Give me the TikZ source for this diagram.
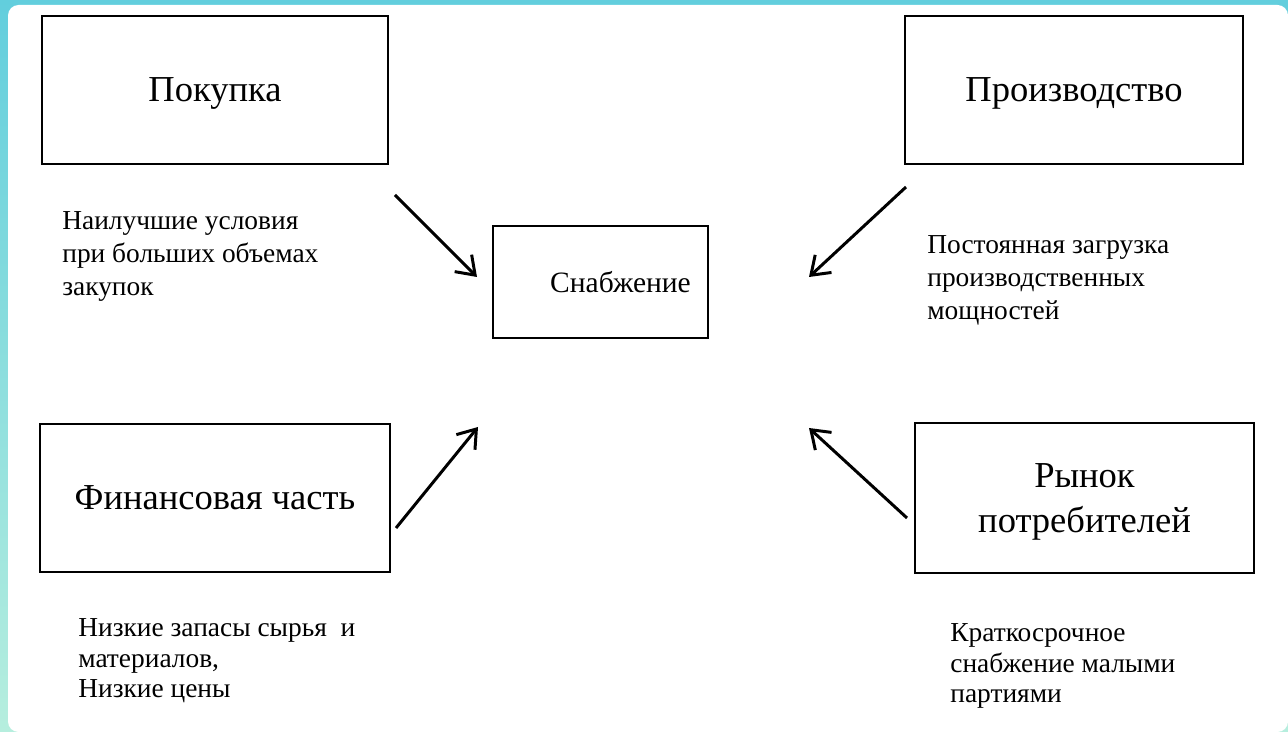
\documentclass[tikz,border=0pt]{standalone}
\usepackage{fontspec}
\setmainfont{Liberation Serif}
\usepackage{tikz}
\usetikzlibrary{arrows.meta, positioning, calc}
\definecolor{frametop}{RGB}{98,206,221}
\definecolor{framebot}{RGB}{182,238,222}

\begin{document}
\begin{tikzpicture}[
    x=0.02cm, y=-0.02cm,
    box/.style={rectangle, draw=black, line width=1.1pt, inner sep=0pt,
                align=center, text depth=0pt, font=\fontsize{20.8}{25.6}\selectfont},
    note/.style={anchor=base west, align=left, inner sep=0pt,
                 font=\fontsize{15.6}{18.8}\selectfont},
    notelow/.style={note, font=\fontsize{15.6}{17.4}\selectfont},
    arr/.style={-{Straight Barb[length=3.4mm, width=4.8mm]}, line width=1.7pt}
]
  \useasboundingbox (0,0) rectangle (1288,732);
  \shade[top color=frametop, bottom color=framebot] (0,0) rectangle (1288,732);
  \fill[white, rounded corners=6pt] (8,5) -- (1288,5) -- (1288,732) -- (8,732) -- cycle;

  \node[box, minimum width=6.92cm, minimum height=2.96cm] (pokupka) at (215,90)   {Покупка};
  \node[box, minimum width=6.76cm, minimum height=2.96cm] (proizv)  at (1074,90)  {Производство};
  \node[box, minimum width=4.30cm, minimum height=2.24cm] (snab)    at (600.5,282) {};
  \node[font=\fontsize{16.8}{21}\selectfont] (snabText) at ([xshift=0.40cm]snab.center) {Снабжение};
  \node[box, minimum width=7.00cm, minimum height=2.96cm] (finans)  at (215,498)  {Финансовая часть};
  \node[box, minimum width=6.78cm, minimum height=3.00cm] (rynok)   at (1084.5,498) {Рынок\\потребителей};

  % notes: placed at the baseline of their last line
  \node[note]    (notePokupka) at (62,296)  {Наилучшие условия\\при больших объемах\\закупок};
  \node[note]    (noteProizv)  at (927,320) {Постоянная загрузка\\производственных\\мощностей};
  \node[notelow] (noteFinans)  at (78,698)  {Низкие запасы сырья\ \ и\\материалов,\\Низкие цены};
  \node[notelow] (noteRynok)   at (950,703) {Краткосрочное\\снабжение малыми\\партиями};

  % arrow ends
  \coordinate (pokOut) at (395,195);  \coordinate (pokIn) at (477,277);
  \coordinate (proOut) at (906,187);  \coordinate (proIn) at (809,277);
  \coordinate (finOut) at (396,528);  \coordinate (finIn) at (478,427);
  \coordinate (ryOut)  at (907,518);  \coordinate (ryIn)  at (809,428);

  \draw[arr] (pokOut) -- (pokIn);
  \draw[arr] (proOut) -- (proIn);
  \draw[arr] (finOut) -- (finIn);
  \draw[arr] (ryOut)  -- (ryIn);
\end{tikzpicture}
\end{document}
